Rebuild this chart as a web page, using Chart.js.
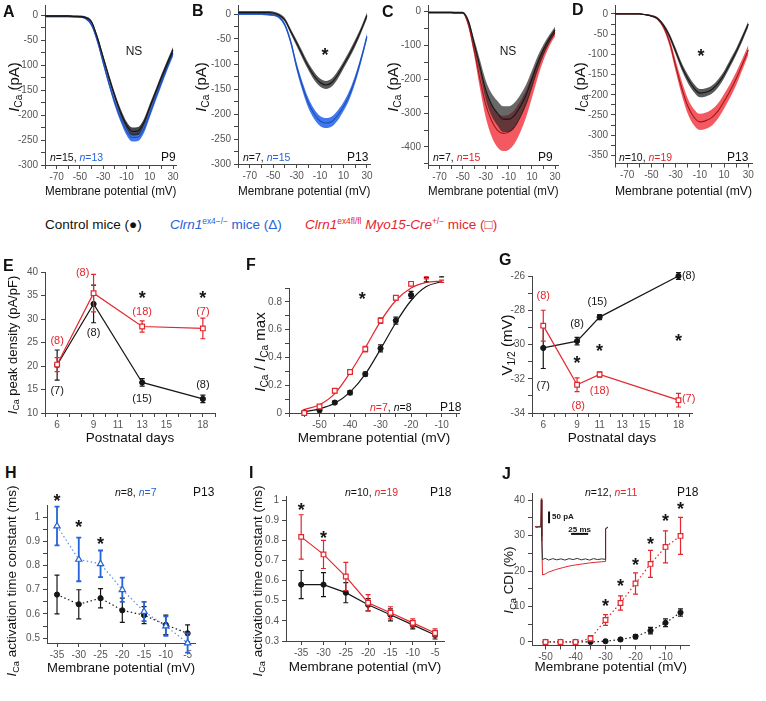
<!DOCTYPE html>
<html>
<head>
<meta charset="utf-8">
<title>ICa recordings</title>
<script src="https://cdn.jsdelivr.net/npm/chart.js@4.4.1/dist/chart.umd.min.js"></script>
<style>
  body { margin: 0; background: #fff; }
  #fig { position: relative; width: 766px; height: 701px; overflow: hidden;
         font-family: "Liberation Sans", Arial, sans-serif; color: #111; }
  #fig canvas { position: absolute; }
  .lbl { position: absolute; white-space: nowrap; line-height: 1; }
  .letter { font-weight: bold; font-size: 16px; }
  .ytitle { font-size: 13.5px; transform: translate(-50%, -50%) rotate(-90deg); }
  .mid { font-size: 13px; }
  .big { font-size: 15px; }
  .leg { font-size: 13.5px; }
  .nlab { font-size: 10.5px; }
  .plab { font-size: 12px; }
  sub { font-size: 0.68em; vertical-align: -0.3em; line-height: 0; }
  sup { font-size: 0.62em; vertical-align: 0.55em; line-height: 0; }
  .k { color: #111; } .b { color: #2563d8; } .r { color: #e3262d; }
</style>
</head>
<body>
<div id="fig"></div>
<script>
const FONT = '"Liberation Sans", Arial, sans-serif';
const BLACK = '#161616', BLUE = '#2563d8', RED = '#e3262d';

// ---- A-D: I-V curves, mean and SEM (pA) ----
const ivVolts = [-80, -75, -70, -65, -60, -55, -50, -45, -40, -35, -30, -25, -20, -15, -10, -5, 0, 5, 10, 15, 20, 25, 30];
const ivA_ctrl = [-2, -2, -2, -2, -2, -3, -3, -5, -14, -45, -85, -125, -162, -195, -220, -233, -232, -215, -185, -155, -125, -97, -70];
const ivA_ctrlSem = [2, 2, 2, 2, 2, 2, 2, 2, 3, 4, 5, 6, 6, 7, 7, 8, 8, 7, 7, 6, 6, 6, 6];
const ivA_ko = [-3, -3, -3, -3, -3, -3, -4, -7, -20, -52, -95, -137, -175, -207, -232, -245, -244, -228, -198, -166, -135, -105, -77];
const ivA_koSem = [2, 2, 2, 2, 2, 2, 2, 2, 3, 4, 5, 6, 7, 7, 8, 8, 8, 8, 7, 7, 7, 6, 6];

const ivB_ctrl = [3, 3, 3, 3, 3, 3, 2, -2, -12, -35, -58, -82, -105, -124, -137, -142, -137, -122, -102, -81, -58, -32, -3];
const ivB_ctrlSem = [3, 3, 3, 3, 3, 3, 3, 3, 4, 5, 6, 7, 7, 8, 8, 8, 8, 8, 7, 7, 7, 6, 6];
const ivB_ko = [0, 0, 0, 0, 0, -1, -2, -6, -22, -56, -105, -145, -178, -200, -214, -218, -215, -203, -185, -162, -130, -90, -45];
const ivB_koSem = [2, 2, 2, 2, 2, 2, 2, 3, 4, 6, 8, 9, 10, 10, 10, 10, 10, 10, 9, 9, 8, 7, 6];

const ivC_ctrl = [-4, -4, -4, -4, -4, -5, -5, -30, -95, -164, -232, -275, -300, -318, -318, -306, -280, -246, -200, -152, -113, -82, -56];
const ivC_ctrlSem = [3, 3, 3, 3, 3, 3, 3, 6, 12, 20, 28, 33, 36, 38, 38, 37, 34, 30, 25, 20, 15, 12, 10];
const ivC_cko = [-4, -4, -4, -4, -4, -5, -5, -40, -115, -200, -275, -322, -350, -360, -356, -340, -310, -272, -222, -170, -126, -90, -63];
const ivC_ckoSem = [3, 3, 3, 3, 3, 3, 3, 8, 16, 28, 38, 46, 50, 52, 52, 50, 46, 40, 33, 26, 19, 14, 11];

const ivD_ctrl = [0, 0, 0, 0, 0, -2, -5, -11, -28, -55, -92, -130, -160, -183, -196, -194, -187, -172, -150, -122, -93, -60, -25];
const ivD_ctrlSem = [1, 1, 1, 1, 1, 1, 2, 3, 4, 6, 8, 9, 10, 10, 10, 10, 10, 10, 9, 9, 8, 8, 7];
const ivD_cko = [0, 0, 0, 0, 0, -2, -5, -12, -32, -70, -128, -183, -228, -255, -267, -264, -256, -240, -216, -190, -160, -125, -89];
const ivD_ckoSem = [1, 1, 1, 1, 1, 1, 2, 3, 6, 10, 14, 17, 19, 20, 20, 20, 20, 19, 18, 17, 16, 14, 12];

const ivTicks = [-80, -70, -60, -50, -40, -30, -20, -10, 0, 10, 20, 30];
const ivTickLabels = [-70, -50, -30, -10, 10, 30];

// ---- E: peak density (pA/pF) vs postnatal day ----
const eDays = [6, 9, 13, 18];
const eCtrl = [20.2, 33.2, 16.5, 13.0];
const eCtrlErr = [3.2, 4.0, 0.8, 0.8];
const eCko = [20.3, 35.5, 28.4, 28.0];
const eCkoErr = [1.5, 4.0, 1.2, 2.2];

// ---- F: normalised activation ----
const fVolts = [-55, -50, -45, -40, -35, -30, -25, -20, -15, -10];
const fCtrl = [0.005, 0.02, 0.075, 0.147, 0.28, 0.465, 0.665, 0.85, 0.96, 0.99];
const fCtrlErr = [0.005, 0.01, 0.012, 0.015, 0.015, 0.025, 0.025, 0.025, 0.015, 0.01];
const fCko = [0.0, 0.047, 0.16, 0.295, 0.46, 0.665, 0.83, 0.93, 0.975, 0.948];
const fCkoErr = [0.005, 0.01, 0.015, 0.015, 0.02, 0.02, 0.015, 0.01, 0.01, 0.008];
const fFitCtrl = [0.01, 0.03, 0.07, 0.15, 0.28, 0.46, 0.65, 0.81, 0.91, 0.945];
const fFitCko = [0.025, 0.06, 0.14, 0.29, 0.47, 0.66, 0.81, 0.9, 0.94, 0.95];

// ---- G: V1/2 (mV) vs postnatal day ----
const gDays = [6, 9, 11, 18];
const gCtrl = [-30.2, -29.8, -28.4, -26.0];
const gCtrlErr = [1.2, 0.22, 0.15, 0.2];
const gCko = [-28.9, -32.35, -31.75, -33.25];
const gCkoErr = [0.9, 0.4, 0.15, 0.4];

const dayTicks = [5, 6, 7, 8, 9, 10, 11, 12, 13, 14, 15, 16, 17, 18, 19];
const dayLabels = [6, 9, 11, 13, 15, 18];

// ---- H, I: activation time constant (ms) ----
const tauVolts = [-35, -30, -25, -20, -15, -10, -5];
const hCtrl = [0.68, 0.64, 0.665, 0.615, 0.595, 0.555, 0.52];
const hCtrlErr = [0.08, 0.06, 0.04, 0.05, 0.035, 0.04, 0.035];
const hKo = [0.963, 0.825, 0.807, 0.70, 0.61, 0.55, 0.48];
const hKoErr = [0.08, 0.09, 0.055, 0.05, 0.04, 0.04, 0.04];
const iCtrl = [0.58, 0.58, 0.54, 0.48, 0.43, 0.38, 0.33];
const iCtrlErr = [0.07, 0.06, 0.05, 0.03, 0.03, 0.02, 0.02];
const iCko = [0.817, 0.73, 0.62, 0.49, 0.44, 0.39, 0.34];
const iCkoErr = [0.11, 0.07, 0.07, 0.04, 0.03, 0.02, 0.02];

// ---- J: CDI (%) ----
const jVolts = [-50, -45, -40, -35, -30, -25, -20, -15, -10, -5];
const jCtrl = [0, 0, 0, 0, 0.2, 0.7, 1.5, 3.2, 5.4, 8.3];
const jCtrlErr = [0.2, 0.2, 0.2, 0.2, 0.3, 0.4, 0.6, 0.9, 1.1, 1.0];
const jCko = [0, 0, 0, 1.0, 6.2, 11, 16.5, 22, 26.8, 29.9];
const jCkoErr = [0.2, 0.2, 0.3, 0.8, 1.5, 2, 3, 3.8, 4.5, 5.2];

// J inset: example current traces (ms, pA)
const insetTimeCtrl = [0, 3, 6, 8.5, 9.3, 10, 11, 15, 20, 26, 32, 38, 44, 50, 56, 62, 68, 74, 80, 86, 92, 98, 103, 103.6, 107];
const insetCurCtrl = [2, -3, 3, 0, 112, -40, -136, -131, -138, -132, -137, -133, -138, -132, -136, -131, -137, -133, -138, -132, -136, -133, -135, -8, -2];
const insetTimeCko = [0, 3, 6, 8.5, 9.3, 10, 11, 15, 20, 30, 40, 50, 60, 70, 80, 90, 98, 103, 103.6, 107];
const insetCurCko = [0, 3, -2, 0, 118, -60, -200, -196, -188, -178, -170, -163, -158, -154, -150, -147, -145, -144, -6, 0];

const fig = document.getElementById('fig');

function addText(html, left, top, cls) {
  const d = document.createElement('div');
  d.className = 'lbl ' + (cls || '');
  d.style.left = left + 'px';
  d.style.top = top + 'px';
  d.innerHTML = html;
  fig.appendChild(d);
  return d;
}

const errorBars = {
  id: 'errorBars',
  beforeDatasetDraw(chart, args) {
    const ds = chart.data.datasets[args.index];
    if (!ds.errs) return;
    const ys = chart.scales[args.meta.yAxisID];
    const c = chart.ctx;
    c.save();
    c.strokeStyle = ds.errColor;
    c.lineWidth = ds.errWidth || 1.2;
    args.meta.data.forEach((pt, i) => {
      const e = ds.errs[i];
      if (!e) return;
      const v = ds.data[i].y;
      const y1 = ys.getPixelForValue(v + e), y2 = ys.getPixelForValue(v - e);
      const x = pt.x, w = 2.5;
      c.beginPath();
      c.moveTo(x, y1); c.lineTo(x, y2);
      c.moveTo(x - w, y1); c.lineTo(x + w, y1);
      c.moveTo(x - w, y2); c.lineTo(x + w, y2);
      c.stroke();
    });
    c.restore();
  }
};

function notesPlugin(notes) {
  return {
    id: 'notes',
    afterDraw(chart) {
      const c = chart.ctx, xs = chart.scales.x, ys = chart.scales.y;
      c.save();
      notes.forEach(n => {
        c.font = n.font || ('11px ' + FONT);
        c.fillStyle = n.color || BLACK;
        c.textAlign = n.align || 'center';
        c.textBaseline = 'middle';
        c.fillText(n.text, xs.getPixelForValue(n.x), ys.getPixelForValue(n.y) + (n.dy || 0));
      });
      c.restore();
    }
  };
}

function star(x, y) { return {x, y, text: '*', font: 'bold 18px ' + FONT, dy: 4}; }
function count(x, y, text, color) { return {x, y, text, color}; }

function axisOpts(a) {
  return {
    type: 'linear', min: a.min, max: a.max,
    afterBuildTicks: s => { s.ticks = a.ticks.map(v => ({value: v})); },
    ticks: {
      autoSkip: false, maxRotation: 0, minRotation: 0, padding: a.pad ?? 2, color: '#555',
      font: {size: 10, family: FONT},
      callback: v => a.labels.includes(v) ? (a.fmt ? a.fmt(v) : String(v)) : ''
    },
    grid: {drawOnChartArea: false, drawTicks: true, tickLength: 4, tickColor: '#444', tickWidth: 1},
    border: {display: true, color: '#444', width: 1}
  };
}

function makePanel(o) {
  const [l, t, r, b] = o.area;
  const padL = 40, padR = 22, padT = 12, padB = o.padB;
  const cv = document.createElement('canvas');
  const W = Math.round(r - l + padL + padR), H = Math.round(b - t + padT + padB);
  cv.width = W; cv.height = H;
  cv.style.left = (l - padL) + 'px'; cv.style.top = (t - padT) + 'px';
  cv.style.width = W + 'px'; cv.style.height = H + 'px';
  fig.appendChild(cv);
  const xs = axisOpts(o.x);
  xs.afterFit = s => { s.height = padB; };
  xs.title = {display: true, text: o.xTitle, color: '#111', font: {size: 13.5, family: FONT}, padding: 0};
  const ys = axisOpts(o.y);
  ys.afterFit = s => { s.width = padL; };
  return new Chart(cv, {
    type: 'line',
    data: {datasets: o.datasets},
    options: {
      responsive: false, animation: false, devicePixelRatio: 1,
      layout: {padding: {left: 0, top: padT, right: W - padL - (r - l), bottom: 0}},
      plugins: {legend: {display: false}, tooltip: {enabled: false}},
      scales: {x: xs, y: ys}
    },
    plugins: [errorBars, notesPlugin(o.notes || [])]
  });
}

// mean line + shaded SEM band
function band(mean, sem, color, shade) {
  const pts = f => ivVolts.map((v, i) => ({x: v, y: f(i)}));
  const common = {pointRadius: 0, cubicInterpolationMode: 'monotone', clip: false};
  return [
    Object.assign({data: pts(i => mean[i]), borderColor: color, borderWidth: 1.1, fill: false}, common),
    Object.assign({data: pts(i => mean[i] - sem[i]), borderWidth: 0, borderColor: 'rgba(0,0,0,0)', fill: '+1', backgroundColor: shade}, common),
    Object.assign({data: pts(i => mean[i] + sem[i]), borderWidth: 0, borderColor: 'rgba(0,0,0,0)', fill: false}, common)
  ];
}

function series(xv, yv, errs, style) {
  return Object.assign({
    data: xv.map((x, i) => ({x, y: yv[i]})), errs, tension: 0, clip: false, fill: false
  }, style);
}
const ctrlStyle = {borderColor: BLACK, pointBackgroundColor: BLACK, pointBorderColor: BLACK, pointStyle: 'circle',
  pointRadius: 2.6, pointBorderWidth: 1, borderWidth: 1.2, errColor: BLACK};
const ckoStyle = {borderColor: RED, pointBackgroundColor: '#fff', pointBorderColor: RED, pointStyle: 'rect',
  pointRadius: 3.3, pointBorderWidth: 1.2, borderWidth: 1.2, errColor: RED};
const koStyle = {borderColor: '#5b8fe6', pointBackgroundColor: '#fff', pointBorderColor: BLUE, pointStyle: 'triangle',
  pointRadius: 3.6, pointBorderWidth: 1.2, borderWidth: 1.2, errColor: BLUE, errWidth: 1.8};
const dotted = {borderDash: [1.5, 2.5]};

const ivX = {min: -80, max: 33, ticks: ivTicks, labels: ivTickLabels};
const yAB = {min: -300, max: 20, ticks: [-300, -275, -250, -225, -200, -175, -150, -125, -100, -75, -50, -25, 0],
  labels: [-300, -250, -200, -150, -100, -50, 0], pad: 3};

// A
makePanel({area: [45, 5, 176.5, 165], padB: 34, x: ivX, y: yAB, xTitle: 'Membrane potential (mV)',
  datasets: [...band(ivA_ctrl, ivA_ctrlSem, BLACK, 'rgba(35,35,45,0.85)'),
             ...band(ivA_ko, ivA_koSem, '#1d4fb8', 'rgba(45,105,235,0.9)')],
  notes: [{x: -3.5, y: -74, text: 'NS', font: '12px ' + FONT}]});
// B
makePanel({area: [238, 5, 370.5, 164], padB: 35, x: ivX, y: Object.assign({}, yAB, {max: 18}), xTitle: 'Membrane potential (mV)',
  datasets: [...band(ivB_ctrl, ivB_ctrlSem, BLACK, 'rgba(60,60,60,0.85)'),
             ...band(ivB_ko, ivB_koSem, '#1d4fb8', 'rgba(45,105,235,0.9)')],
  notes: [star(-5.8, -76)]});
// C
makePanel({area: [428, 5, 558.5, 165], padB: 34, x: ivX,
  y: {min: -453, max: 18, ticks: [-450, -400, -350, -300, -250, -200, -150, -100, -50, 0], labels: [-400, -300, -200, -100, 0], pad: 3},
  xTitle: 'Membrane potential (mV)',
  datasets: [...band(ivC_ctrl, ivC_ctrlSem, BLACK, 'rgba(40,40,40,0.7)'),
             ...band(ivC_cko, ivC_ckoSem, '#a01818', 'rgba(242,60,70,0.85)')],
  notes: [{x: -10.7, y: -120, text: 'NS', font: '12px ' + FONT}]});
// D
makePanel({area: [615, 5, 752, 163.5], padB: 35.5, x: ivX,
  y: {min: -370, max: 22, ticks: [-350, -325, -300, -275, -250, -225, -200, -175, -150, -125, -100, -75, -50, -25, 0],
      labels: [-350, -300, -250, -200, -150, -100, -50, 0], pad: 3},
  xTitle: 'Membrane potential (mV)',
  datasets: [...band(ivD_ctrl, ivD_ctrlSem, BLACK, 'rgba(60,60,60,0.85)'),
             ...band(ivD_cko, ivD_ckoSem, '#a01818', 'rgba(242,60,70,0.85)')],
  notes: [star(-9.1, -96)]});

// E
makePanel({area: [45, 271.7, 215, 413], padB: 33,
  x: {min: 5, max: 19, ticks: dayTicks, labels: dayLabels},
  y: {min: 10, max: 40, ticks: [10, 15, 20, 25, 30, 35, 40], labels: [10, 15, 20, 25, 30, 35, 40], pad: 3},
  xTitle: 'Postnatal days',
  datasets: [series(eDays, eCko, eCkoErr, ckoStyle), series(eDays, eCtrl, eCtrlErr, ctrlStyle)],
  notes: [count(6, 25.3, '(8)', RED), count(8.1, 39.8, '(8)', RED), count(13, 31.5, '(18)', RED), count(18, 31.5, '(7)', RED),
          count(9, 27, '(8)'), count(6, 14.7, '(7)'), count(13, 13, '(15)'), count(18, 16, '(8)'),
          star(13, 35), star(18, 35)]});

// F
makePanel({area: [289, 288.4, 459, 413.5], padB: 33,
  x: {min: -60, max: -4.3, ticks: [-60, -55, -50, -45, -40, -35, -30, -25, -20, -15, -10, -5], labels: [-50, -40, -30, -20, -10]},
  y: {min: 0, max: 0.9, ticks: [0, 0.1, 0.2, 0.3, 0.4, 0.5, 0.6, 0.7, 0.8, 0.9], labels: [0, 0.2, 0.4, 0.6, 0.8], pad: 3},
  xTitle: 'Membrane potential (mV)',
  datasets: [
    series(fVolts, fCko, fCkoErr, Object.assign({}, ckoStyle, {showLine: false})),
    series(fVolts, fCtrl, fCtrlErr, Object.assign({}, ctrlStyle, {showLine: false})),
    series(fVolts, fFitCko, null, {borderColor: RED, borderWidth: 1.2, pointRadius: 0, cubicInterpolationMode: 'monotone'}),
    series(fVolts, fFitCtrl, null, {borderColor: BLACK, borderWidth: 1.2, pointRadius: 0, cubicInterpolationMode: 'monotone'})
  ],
  notes: [star(-36, 0.84)]});

// G
makePanel({area: [532, 275.5, 692, 412.3], padB: 33,
  x: {min: 5, max: 19.2, ticks: dayTicks, labels: dayLabels},
  y: {min: -34, max: -26, ticks: [-34, -33, -32, -31, -30, -29, -28, -27, -26], labels: [-34, -32, -30, -28, -26], pad: 3},
  xTitle: 'Postnatal days',
  datasets: [series(gDays, gCko, gCkoErr, ckoStyle), series(gDays, gCtrl, gCtrlErr, ctrlStyle)],
  notes: [count(6, -27.15, '(8)', RED), count(9, -28.8, '(8)'), count(10.8, -27.5, '(15)'), count(18.9, -26, '(8)'),
          count(6, -32.45, '(7)'), count(9.1, -33.6, '(8)', RED), count(11, -32.7, '(18)', RED), count(18.9, -33.2, '(7)', RED),
          star(9, -30.9), star(11, -30.2), star(18, -29.65)]});

const tauX = {ticks: [-35, -30, -25, -20, -15, -10, -5], labels: [-35, -30, -25, -20, -15, -10, -5]};
const fmt1 = v => v === 1 ? '1' : v.toFixed(1);

// H
makePanel({area: [47, 504.6, 195, 642.5], padB: 33,
  x: Object.assign({min: -37.3, max: -3.3}, tauX),
  y: {min: 0.48, max: 1.05, ticks: [0.5, 0.55, 0.6, 0.65, 0.7, 0.75, 0.8, 0.85, 0.9, 0.95, 1], labels: [0.5, 0.6, 0.7, 0.8, 0.9, 1], fmt: fmt1, pad: 3},
  xTitle: 'Membrane potential (mV)',
  datasets: [series(tauVolts, hKo, hKoErr, Object.assign({}, koStyle, dotted)),
             series(tauVolts, hCtrl, hCtrlErr, Object.assign({}, ctrlStyle, dotted))],
  notes: [star(-35, 1.077), star(-30, 0.97), star(-25, 0.9)]});

// I
makePanel({area: [286, 496, 444, 641], padB: 34,
  x: Object.assign({min: -38.4, max: -3}, tauX),
  y: {min: 0.3, max: 1.02, ticks: [0.3, 0.4, 0.5, 0.6, 0.7, 0.8, 0.9, 1], labels: [0.3, 0.4, 0.5, 0.6, 0.7, 0.8, 0.9, 1], fmt: fmt1, pad: 3},
  xTitle: 'Membrane potential (mV)',
  datasets: [series(tauVolts, iCko, iCkoErr, ckoStyle), series(tauVolts, iCtrl, iCtrlErr, ctrlStyle)],
  notes: [star(-35, 0.967), star(-30, 0.826)]});

// J
makePanel({area: [532, 492.9, 689.5, 645.6], padB: 29.5,
  x: {min: -54.5, max: -2, ticks: [-50, -45, -40, -35, -30, -25, -20, -15, -10, -5], labels: [-50, -40, -30, -20, -10]},
  y: {min: -1, max: 42, ticks: [0, 5, 10, 15, 20, 25, 30, 35, 40], labels: [0, 10, 20, 30, 40], pad: 3},
  xTitle: 'Membrane potential (mV)',
  datasets: [series(jVolts, jCko, jCkoErr, Object.assign({}, ckoStyle, dotted)),
             series(jVolts, jCtrl, jCtrlErr, Object.assign({}, ctrlStyle, dotted))],
  notes: [star(-30, 11), star(-25, 16.5), star(-20, 22.6), star(-15, 28.5), star(-10, 35), star(-5, 38.3)]});

// J inset traces with scale bars
(function () {
  const l = 535, t = 495, r = 612, b = 580;
  const cv = document.createElement('canvas');
  cv.width = r - l; cv.height = b - t;
  cv.style.left = l + 'px'; cv.style.top = t + 'px';
  cv.style.width = (r - l) + 'px'; cv.style.height = (b - t) + 'px';
  fig.appendChild(cv);
  const line = (xv, yv, color, w) => ({data: xv.map((x, i) => ({x, y: yv[i]})), borderColor: color, borderWidth: w,
    pointRadius: 0, tension: 0, clip: false, fill: false});
  new Chart(cv, {
    type: 'line',
    data: {datasets: [
      line(insetTimeCtrl, insetCurCtrl, '#333', 1),
      line(insetTimeCko, insetCurCko, RED, 1),
      line([20.6, 20.6], [64, 15], '#111', 2),
      line([53, 78], [-29, -29], '#111', 2)
    ]},
    options: {
      responsive: false, animation: false, devicePixelRatio: 1,
      layout: {padding: 0},
      plugins: {legend: {display: false}, tooltip: {enabled: false}},
      scales: {x: {type: 'linear', min: 0, max: 113, display: false}, y: {type: 'linear', min: -221, max: 133, display: false}}
    },
    plugins: [notesPlugin([
      {x: 25, y: 42, text: '50 pA', align: 'left', font: 'bold 8px ' + FONT},
      {x: 65.5, y: -10, text: '25 ms', font: 'bold 8px ' + FONT}
    ])]
  });
})();

// ---- HTML text: panel letters, legend, axis titles, n labels ----
[['A', 3, 4], ['B', 192, 3], ['C', 382, 4], ['D', 572, 2], ['E', 3, 258], ['F', 246, 257], ['G', 499, 252],
 ['H', 5, 465], ['I', 249, 465], ['J', 502, 466]].forEach(([s, x, y]) => addText(s, x, y, 'letter'));

addText('Control mice (●)', 45, 218, 'leg');
addText('<i>Clrn1</i><sup>ex4−/−</sup> mice (Δ)', 170, 218, 'leg b');
addText('<i>Clrn1</i><sup>ex4fl/fl</sup> <i>Myo15-Cre</i><sup>+/−</sup> mice (□)', 305, 218, 'leg r');

const ica = '<i>I</i><sub>Ca</sub>';
[[13, 87], [200, 87], [392, 87], [579, 87]].forEach(([x, y]) => addText(ica + ' (pA)', x, y, 'ytitle big'));
addText(ica + ' peak density (pA/pF)', 12, 345, 'ytitle mid');
addText(ica + ' / ' + ica + ' max', 259, 352, 'ytitle big');
addText('V<sub>1/2</sub> (mV)', 506, 345, 'ytitle big');
addText(ica + ' activation time constant (ms)', 12, 581, 'ytitle');
addText(ica + ' activation time constant (ms)', 258, 581, 'ytitle');
addText(ica + ' CDI (%)', 509, 580, 'ytitle');

const nl = (n, cls) => '<span class="' + cls + '"><i>n</i>=' + n + '</span>';
addText(nl(15, 'k') + ', ' + nl(13, 'b'), 50, 152, 'nlab');
addText('P9', 161, 151, 'plab');
addText(nl(7, 'k') + ', ' + nl(15, 'b'), 243, 152, 'nlab');
addText('P13', 347, 151, 'plab');
addText(nl(7, 'k') + ', ' + nl(15, 'r'), 433, 152, 'nlab');
addText('P9', 538, 151, 'plab');
addText(nl(10, 'k') + ', ' + nl(19, 'r'), 619, 152, 'nlab');
addText('P13', 727, 151, 'plab');
addText(nl(7, 'r') + ', ' + nl(8, 'k'), 370, 402, 'nlab');
addText('P18', 440, 401, 'plab');
addText(nl(8, 'k') + ', ' + nl(7, 'b'), 115, 487, 'nlab');
addText('P13', 193, 486, 'plab');
addText(nl(10, 'k') + ', ' + nl(19, 'r'), 345, 487, 'nlab');
addText('P18', 430, 486, 'plab');
addText(nl(12, 'k') + ', ' + nl(11, 'r'), 585, 487, 'nlab');
addText('P18', 677, 486, 'plab');
</script>
</body>
</html>
